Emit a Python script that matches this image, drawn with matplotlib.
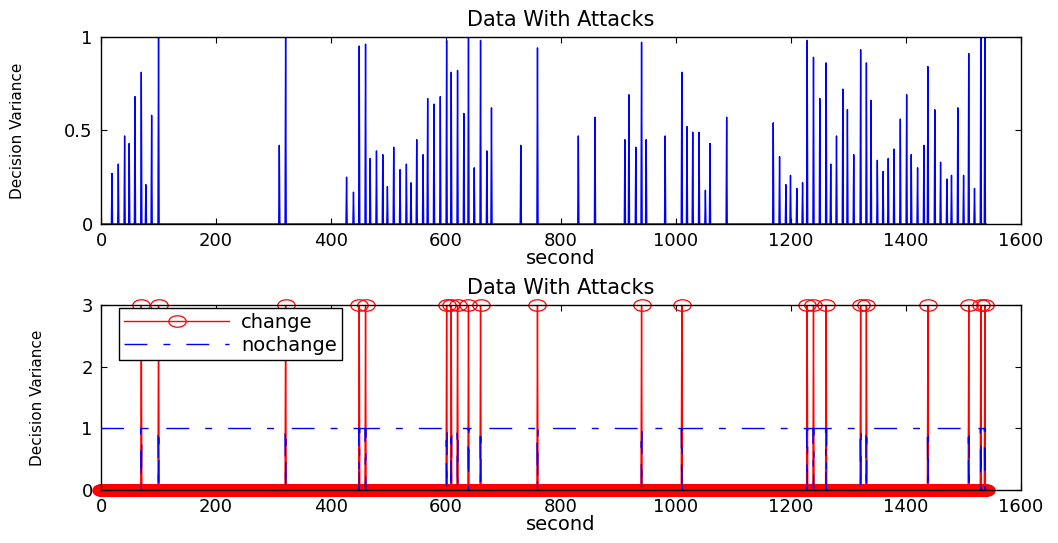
import numpy as np
import matplotlib.pyplot as plt
from matplotlib.path import Path


# spikes of the decision variance (second, value)
spike_sec = np.array([
    19, 30, 41, 49, 59, 70, 78, 88, 100,
    310, 321,
    427, 439, 449, 460, 468, 479, 490, 498, 509, 520, 531, 539, 549, 560,
    568, 579, 590, 601, 609, 620, 631, 639, 649, 660, 671, 679,
    730, 759, 830, 859,
    911, 918, 930, 940, 948, 981, 1010, 1019, 1029, 1040, 1051, 1059, 1088,
    1169, 1180, 1191, 1199, 1210, 1220, 1228, 1239, 1250, 1261, 1269, 1279,
    1290, 1298, 1309, 1321, 1331, 1339, 1350, 1360, 1369, 1379, 1390, 1401,
    1409, 1420, 1431, 1438, 1450, 1460, 1471, 1479, 1490, 1500, 1509, 1519,
    1530, 1537
])
spike_val = np.array([
    0.27, 0.32, 0.47, 0.43, 0.68, 0.81, 0.21, 0.58, 1.0,
    0.42, 1.0,
    0.25, 0.17, 0.95, 0.96, 0.35, 0.39, 0.37, 0.20, 0.41, 0.29, 0.32, 0.22, 0.45, 0.37,
    0.67, 0.64, 0.68, 0.98, 0.81, 0.82, 0.59, 1.0, 0.30, 0.98, 0.39, 0.62,
    0.42, 0.94, 0.47, 0.57,
    0.45, 0.69, 0.41, 0.97, 0.45, 0.47, 0.81, 0.52, 0.49, 0.49, 0.18, 0.43, 0.57,
    0.54, 0.36, 0.21, 0.26, 0.19, 0.22, 0.98, 0.89, 0.67, 0.86, 0.32, 0.47,
    0.72, 0.61, 0.37, 0.93, 0.86, 0.66, 0.34, 0.28, 0.35, 0.40, 0.56, 0.69,
    0.37, 0.30, 0.42, 0.84, 0.61, 0.33, 0.24, 0.26, 0.62, 0.26, 0.91, 0.19,
    1.05, 1.05
])

# seconds flagged as change
change_sec = np.array([
    70, 100, 321, 449, 460, 601, 609, 620, 639, 660, 759, 940, 1010,
    1228, 1239, 1261, 1321, 1331, 1438, 1509, 1530, 1537
])
n_sec = 1540

t = np.arange(n_sec)
variance = np.zeros(n_sec)
variance[spike_sec] = spike_val
change = np.zeros(n_sec)
change[change_sec] = 3
nochange = np.ones(n_sec)
nochange[change_sec] = 0

# matlab-ish oval marker
circ = Path.unit_circle()
oval = Path(circ.vertices * [1.0, 0.66], circ.codes)

plt.rcParams['font.family'] = ['DejaVu Sans']

fig = plt.figure(figsize=(10.58, 5.43), dpi=100)
ax1 = fig.add_axes([0.0955, 0.5875, 0.8696, 0.345])
ax2 = fig.add_axes([0.0955, 0.0976, 0.8696, 0.3398])

# top panel
ax1.plot(t, variance, color='blue', linewidth=1)
ax1.set_xlim(0, 1600)
ax1.set_ylim(0, 1)
ax1.set_yticks([0, 0.5, 1])
ax1.set_yticklabels(['0', '0.5', '1'])
ax1.set_title('Data With Attacks', fontsize=15, pad=8)
ax1.set_xlabel('second', fontsize=14, labelpad=-1)
ax1.set_ylabel('Decision Variance', fontsize=11)
ax1.yaxis.set_label_coords(-0.083, 0.5)

# bottom panel
ax2.plot(t, change, color='red', linewidth=1, marker=oval, markersize=12.5,
         markerfacecolor='none', markeredgewidth=0.9, clip_on=False,
         label='change')
ax2.plot(t, nochange, color='blue', linewidth=1,
         linestyle=(0, (16.5, 11.5, 5, 11.5)), label='nochange')
ax2.set_xlim(0, 1600)
ax2.set_ylim(0, 3)
ax2.set_yticks([0, 1, 2, 3])
ax2.set_title('Data With Attacks', fontsize=15, pad=8)
ax2.set_xlabel('second', fontsize=14, labelpad=-1)
ax2.set_ylabel('Decision Variance', fontsize=11)
ax2.yaxis.set_label_coords(-0.061, 0.5)
leg = ax2.legend(loc='upper left', bbox_to_anchor=(0.02, 0.985), borderaxespad=0,
                 fontsize=14, handlelength=5.4, handletextpad=0.6, numpoints=1,
                 fancybox=False, edgecolor='black', framealpha=1,
                 borderpad=0.25, labelspacing=0.2)
leg.get_frame().set_linewidth(1)

for ax in (ax1, ax2):
    ax.set_xticks(np.arange(0, 1601, 200))
    ax.tick_params(direction='in', top=True, right=True, length=4,
                   labelsize=13, pad=6)
    for s in ax.spines.values():
        s.set_linewidth(1)

plt.savefig('out.png', dpi=100)
